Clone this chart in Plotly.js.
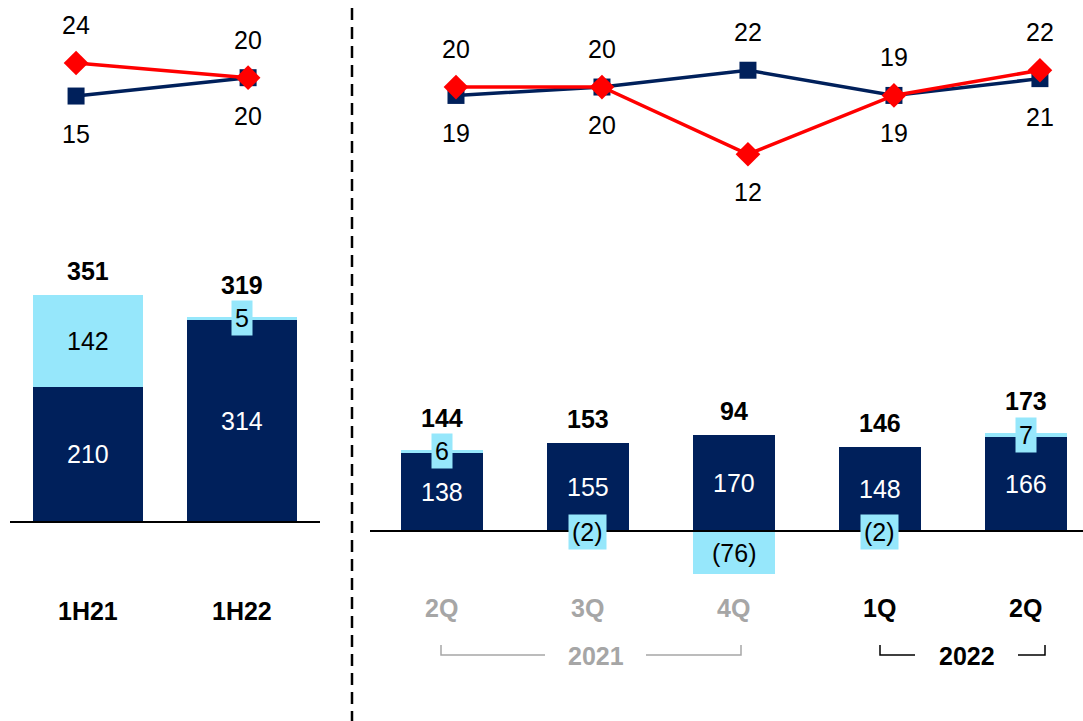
<!DOCTYPE html>
<html>
<head>
<meta charset="utf-8">
<script src="https://cdn.plot.ly/plotly-3.0.1.min.js"></script>
<style>
  html, body { margin: 0; padding: 0; background: #ffffff; }
  #plot { width: 1083px; height: 721px; }
</style>
</head>
<body>
<div id="plot"></div>
<script>
// Half-year panel
var halfLabels = ['1H21', '1H22'];
var halfCore = [210, 314];
var halfOther = [142, 5];
var halfTotal = [351, 319];
var halfBlue = [15, 20];
var halfRed = [24, 20];

// Quarterly panel
var qLabels = ['2Q', '3Q', '4Q', '1Q', '2Q'];
var qYears = ['2021', '2021', '2021', '2022', '2022'];
var qCore = [138, 155, 170, 148, 166];
var qOther = [6, -2, -76, -2, 7];
var qTotal = [144, 153, 94, 146, 173];
var qBlue = [19, 20, 22, 19, 21];
var qRed = [20, 20, 12, 19, 22];

var NAVY = '#00205B';
var LIGHT = '#96E7FB';
var RED = '#FF0000';
var GREY = '#A6A6A6';
var FONT = 'Liberation Sans, Arial, sans-serif';
var W = 1083, H = 721;

function px(x) { return x / W; }
function py(y) { return 1 - y / H; }
function fmt(v) { return v < 0 ? '(' + Math.abs(v) + ')' : String(v); }
function idx(arr) { return arr.map(function (d, i) { return i; }); }

var hx = idx(halfLabels);
var qx = idx(qLabels);

var data = [
  { type: 'bar', x: hx, y: halfCore, xaxis: 'x', yaxis: 'y', width: 0.71,
    marker: { color: NAVY }, hoverinfo: 'skip' },
  { type: 'bar', x: hx, y: halfOther, xaxis: 'x', yaxis: 'y', width: 0.71,
    marker: { color: LIGHT }, hoverinfo: 'skip' },
  { type: 'bar', x: qx, y: qCore, xaxis: 'x2', yaxis: 'y2', width: 0.56,
    marker: { color: NAVY }, hoverinfo: 'skip' },
  { type: 'bar', x: qx, y: qOther, xaxis: 'x2', yaxis: 'y2', width: 0.56,
    marker: { color: LIGHT }, hoverinfo: 'skip' },
  { type: 'scatter', mode: 'lines+markers', x: hx, y: halfBlue, xaxis: 'x3', yaxis: 'y3',
    line: { color: NAVY, width: 3.5 }, marker: { symbol: 'square', size: 17, color: NAVY } },
  { type: 'scatter', mode: 'lines+markers', x: hx, y: halfRed, xaxis: 'x3', yaxis: 'y3',
    line: { color: RED, width: 3.5 }, marker: { symbol: 'diamond', size: 19, color: RED } },
  { type: 'scatter', mode: 'lines+markers', x: qx, y: qBlue, xaxis: 'x4', yaxis: 'y4',
    line: { color: NAVY, width: 3.5 }, marker: { symbol: 'square', size: 17, color: NAVY } },
  { type: 'scatter', mode: 'lines+markers', x: qx, y: qRed, xaxis: 'x4', yaxis: 'y4',
    line: { color: RED, width: 3.5 }, marker: { symbol: 'diamond', size: 19, color: RED } }
];

var annotations = [];

function barLabels(core, other, total, xr, yr) {
  core.forEach(function (c, i) {
    var o = other[i];
    annotations.push({ xref: xr, yref: yr, x: i, y: c / 2, text: String(c), showarrow: false,
      font: { family: FONT, size: 25, color: '#ffffff' } });
    var small = Math.abs(o) < 20;
    var oy = o > 0 ? c + o / 2 : o / 2;
    var a = { xref: xr, yref: yr, x: i, y: oy, text: fmt(o), showarrow: false,
      font: { family: FONT, size: 25, color: '#000000' } };
    if (small) { a.bgcolor = LIGHT; a.borderpad = 3; }
    annotations.push(a);
    var top = c + Math.max(o, 0);
    annotations.push({ xref: xr, yref: yr, x: i, y: top, yanchor: 'bottom', yshift: small && o > 0 ? 16 : 8,
      text: '<b>' + total[i] + '</b>', showarrow: false,
      font: { family: FONT, size: 25, color: '#000000' } });
  });
}
barLabels(halfCore, halfOther, halfTotal, 'x', 'y');
barLabels(qCore, qOther, qTotal, 'x2', 'y2');

function lineLabels(blue, red, xr, yr) {
  blue.forEach(function (b, i) {
    var r = red[i];
    var hi = r >= b ? r : b, lo = r >= b ? b : r;
    annotations.push({ xref: xr, yref: yr, x: i, y: hi, yshift: 38, text: String(hi), showarrow: false,
      font: { family: FONT, size: 25, color: '#000000' } });
    annotations.push({ xref: xr, yref: yr, x: i, y: lo, yshift: -38, text: String(lo), showarrow: false,
      font: { family: FONT, size: 25, color: '#000000' } });
  });
}
lineLabels(halfBlue, halfRed, 'x3', 'y3');
lineLabels(qBlue, qRed, 'x4', 'y4');

// category labels
halfLabels.forEach(function (t, i) {
  annotations.push({ xref: 'x', yref: 'paper', x: i, y: py(611), xanchor: 'center', yanchor: 'middle',
    text: '<b>' + t + '</b>', showarrow: false,
    font: { family: FONT, size: 25, color: '#000000' } });
});
qLabels.forEach(function (t, i) {
  annotations.push({ xref: 'x2', yref: 'paper', x: i, y: py(608), xanchor: 'center', yanchor: 'middle',
    text: '<b>' + t + '</b>', showarrow: false,
    font: { family: FONT, size: 25, color: qYears[i] === '2021' ? GREY : '#000000' } });
});
annotations.push({ xref: 'paper', yref: 'paper', x: px(596), y: py(656), xanchor: 'center', yanchor: 'middle',
  text: '<b>2021</b>', showarrow: false, font: { family: FONT, size: 25, color: GREY } });
annotations.push({ xref: 'paper', yref: 'paper', x: px(967), y: py(656), xanchor: 'center', yanchor: 'middle',
  text: '<b>2022</b>', showarrow: false, font: { family: FONT, size: 25, color: '#000000' } });

function bracketPath(x1, x2, y, yTop) {
  return 'M' + px(x1) + ',' + py(yTop) + ' L' + px(x1) + ',' + py(y) + ' L' + px(x2) + ',' + py(y);
}

var shapes = [
  // baselines
  { type: 'line', xref: 'paper', yref: 'y', x0: px(10), x1: px(320), y0: 0, y1: 0,
    line: { color: '#000000', width: 2 } },
  { type: 'line', xref: 'paper', yref: 'y2', x0: px(370), x1: 1, y0: 0, y1: 0,
    line: { color: '#000000', width: 2 } },
  // divider
  { type: 'line', xref: 'paper', yref: 'paper', x0: px(352), x1: px(352), y0: py(8), y1: 0,
    line: { color: '#000000', width: 2.5, dash: '12px,7px' } },
  // year brackets
  { type: 'path', xref: 'paper', yref: 'paper', path: bracketPath(441, 545, 655, 645),
    line: { color: GREY, width: 1.5 } },
  { type: 'path', xref: 'paper', yref: 'paper', path: bracketPath(741, 646, 655, 645),
    line: { color: GREY, width: 1.5 } },
  { type: 'path', xref: 'paper', yref: 'paper', path: bracketPath(880, 915, 655, 645),
    line: { color: '#000000', width: 1.5 } },
  { type: 'path', xref: 'paper', yref: 'paper', path: bracketPath(1045, 1018, 655, 645),
    line: { color: '#000000', width: 1.5 } }
];

function hiddenAxis(extra) {
  var a = { visible: false, showgrid: false, zeroline: false, fixedrange: true };
  for (var k in extra) a[k] = extra[k];
  return a;
}

var layout = {
  width: W,
  height: H,
  margin: { l: 0, r: 0, t: 0, b: 0 },
  paper_bgcolor: '#ffffff',
  plot_bgcolor: 'rgba(0,0,0,0)',
  showlegend: false,
  barmode: 'relative',
  bargap: 0,
  xaxis: hiddenAxis({ domain: [px(10), px(320)], range: [-0.506, 1.507], anchor: 'y' }),
  yaxis: hiddenAxis({ domain: [0, 1], range: [-309, 810.6], anchor: 'x' }),
  xaxis2: hiddenAxis({ domain: [px(370), 1], range: [-0.493, 4.391], anchor: 'y2' }),
  yaxis2: hiddenAxis({ domain: [0, 1], range: [-335.7, 938.2], anchor: 'x2' }),
  xaxis3: hiddenAxis({ domain: [px(10), px(320)], range: [-0.384, 1.418], anchor: 'y3' }),
  yaxis3: hiddenAxis({ domain: [0, 1], range: [-155.3, 41.17], anchor: 'x3' }),
  xaxis4: hiddenAxis({ domain: [px(370), 1], range: [-0.589, 4.295], anchor: 'y4' }),
  yaxis4: hiddenAxis({ domain: [0, 1], range: [-55.47, 30.36], anchor: 'x4' }),
  annotations: annotations,
  shapes: shapes
};

Plotly.newPlot('plot', data, layout, { displayModeBar: false, staticPlot: true });
</script>
</body>
</html>
